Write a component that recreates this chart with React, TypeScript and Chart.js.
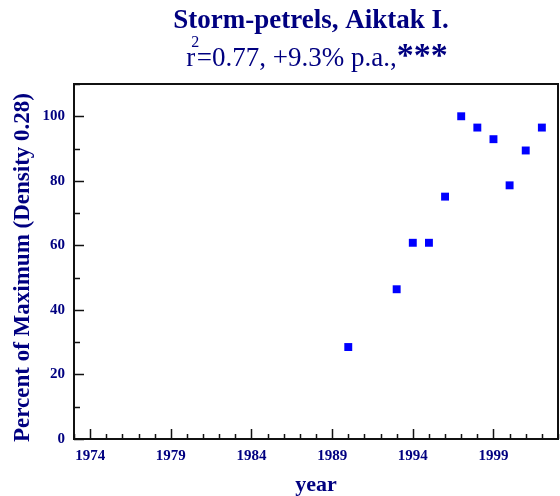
import React, { useEffect, useRef } from 'react';
import { Chart, registerables } from 'chart.js';

Chart.register(...registerables);

const years = [1990, 1993, 1994, 1995, 1996, 1997, 1998, 1999, 2000, 2001, 2002];
const percents = [28.5, 46.4, 60.8, 60.8, 75.1, 100, 96.5, 92.9, 78.6, 89.4, 96.5];
const yTickLabels = [0, 20, 40, 60, 80, 100];
const xTickLabels = [1974, 1979, 1984, 1989, 1994, 1999];
const titleText = 'Storm-petrels, Aiktak I.';
const subR = 'r';
const subSup = '2';
const subBody = '=0.77, +9.3% p.a.,';
const subStars = '***';
const xAxisTitle = 'year';
const yAxisTitle = 'Percent of Maximum (Density 0.28)';

const NAVY = '#000080';
const SERIF = '"Liberation Serif", "DejaVu Serif", serif';

const decorPlugin = {
  id: 'decor',
  afterDraw(chart: any) {
    const ctx = chart.ctx as CanvasRenderingContext2D;
    const { left, right, top, bottom } = chart.chartArea;
    const xs = chart.scales.x;
    const ys = chart.scales.y;
    ctx.save();
    // frame
    ctx.strokeStyle = '#111';
    ctx.lineWidth = 2;
    ctx.strokeRect(left, top, right - left, bottom - top);
    // inward ticks
    ctx.lineWidth = 1.5;
    ctx.beginPath();
    xs.ticks.forEach((t: any) => {
      const px = Math.round(xs.getPixelForValue(t.value)) + 0.5;
      const major = xTickLabels.includes(t.value);
      const len = major ? 10 : 5;
      ctx.moveTo(px, bottom);
      ctx.lineTo(px, bottom - len);
    });
    ys.ticks.forEach((t: any) => {
      const py = Math.round(ys.getPixelForValue(t.value)) + 0.5;
      const major = yTickLabels.includes(t.value);
      const len = major ? 10 : 6;
      ctx.moveTo(left, py);
      ctx.lineTo(left + len, py);
    });
    ctx.stroke();

    const cx = 314;
    ctx.fillStyle = NAVY;
    // title
    ctx.font = `bold 27px ${SERIF}`;
    ctx.textAlign = 'center';
    ctx.textBaseline = 'alphabetic';
    ctx.fillText(titleText, cx - 3, 28);

    // subtitle with superscript
    const fMain = `27px ${SERIF}`;
    const fSup = `16px ${SERIF}`;
    const fStars = `bold 34px ${SERIF}`;
    ctx.font = fMain;
    const wR = ctx.measureText(subR).width;
    const wBody = ctx.measureText(subBody).width;
    ctx.font = fSup;
    const wSup = ctx.measureText(subSup).width;
    ctx.font = fStars;
    const wStars = ctx.measureText(subStars).width;
    const total = wR + wSup * 0.2 + wBody + wStars;
    let x = cx + 3 - total / 2;
    const base = 66;
    ctx.textAlign = 'left';
    ctx.font = fMain;
    ctx.fillText(subR, x, base);
    ctx.font = fSup;
    ctx.fillText(subSup, x + wR * 0.55, base - 19);
    x += wR + wSup * 0.2;
    ctx.font = fMain;
    ctx.fillText(subBody, x, base);
    x += wBody;
    ctx.font = fStars;
    ctx.fillText(subStars, x, base);

    // axis titles
    ctx.font = `bold 22px ${SERIF}`;
    ctx.textAlign = 'center';
    ctx.textBaseline = 'middle';
    ctx.fillText(xAxisTitle, (left + right) / 2, 485);

    ctx.font = `bold 23px ${SERIF}`;
    ctx.translate(23, (top + bottom) / 2 + 6);
    ctx.rotate(-Math.PI / 2);
    ctx.fillText(yAxisTitle, 0, 0);
    ctx.restore();
  },
};

export default function App() {
  const ref = useRef<HTMLCanvasElement | null>(null);
  useEffect(() => {
    if (!ref.current) return;
    const chart = new Chart(ref.current, {
      type: 'scatter',
      data: {
        datasets: [
          {
            data: years.map((y, i) => ({ x: y, y: percents[i] })),
            pointStyle: 'rect',
            radius: 5.6,
            borderWidth: 0,
            backgroundColor: '#0000ff',
            borderColor: '#0000ff',
          },
        ],
      },
      options: {
        responsive: false,
        animation: false,
        events: [],
        layout: { autoPadding: false, padding: { top: 84, right: 2, left: 0, bottom: 0 } },
        plugins: { legend: { display: false }, tooltip: { enabled: false }, title: { display: false } },
        scales: {
          x: {
            type: 'linear',
            min: 1973,
            max: 2003,
            afterFit: (s: any) => { s.height = 57; s.paddingLeft = 0; s.paddingRight = 0; },
            grid: { display: false, drawTicks: false },
            border: { display: false },
            ticks: {
              stepSize: 1,
              autoSkip: false,
              maxRotation: 0,
              padding: 8,
              color: NAVY,
              font: { family: SERIF, size: 15, weight: 'bold' },
              callback: (v: any) => (xTickLabels.includes(v) ? String(v) : ''),
            },
          },
          y: {
            type: 'linear',
            min: 0,
            max: 110,
            afterFit: (s: any) => { s.width = 74; s.paddingTop = 0; s.paddingBottom = 0; },
            grid: { display: false, drawTicks: false },
            border: { display: false },
            ticks: {
              stepSize: 10,
              autoSkip: false,
              padding: 9,
              color: NAVY,
              font: { family: SERIF, size: 15, weight: 'bold' },
              callback: (v: any) => (yTickLabels.includes(v) ? String(v) : ''),
            },
          },
        },
      },
      plugins: [decorPlugin],
    } as any);
    return () => chart.destroy();
  }, []);
  return (
    <div style={{ position: 'fixed', left: 0, top: 0, width: 560, height: 496, background: '#fff' }}>
      <canvas ref={ref} width={560} height={496} style={{ display: 'block' }} />
    </div>
  );
}
